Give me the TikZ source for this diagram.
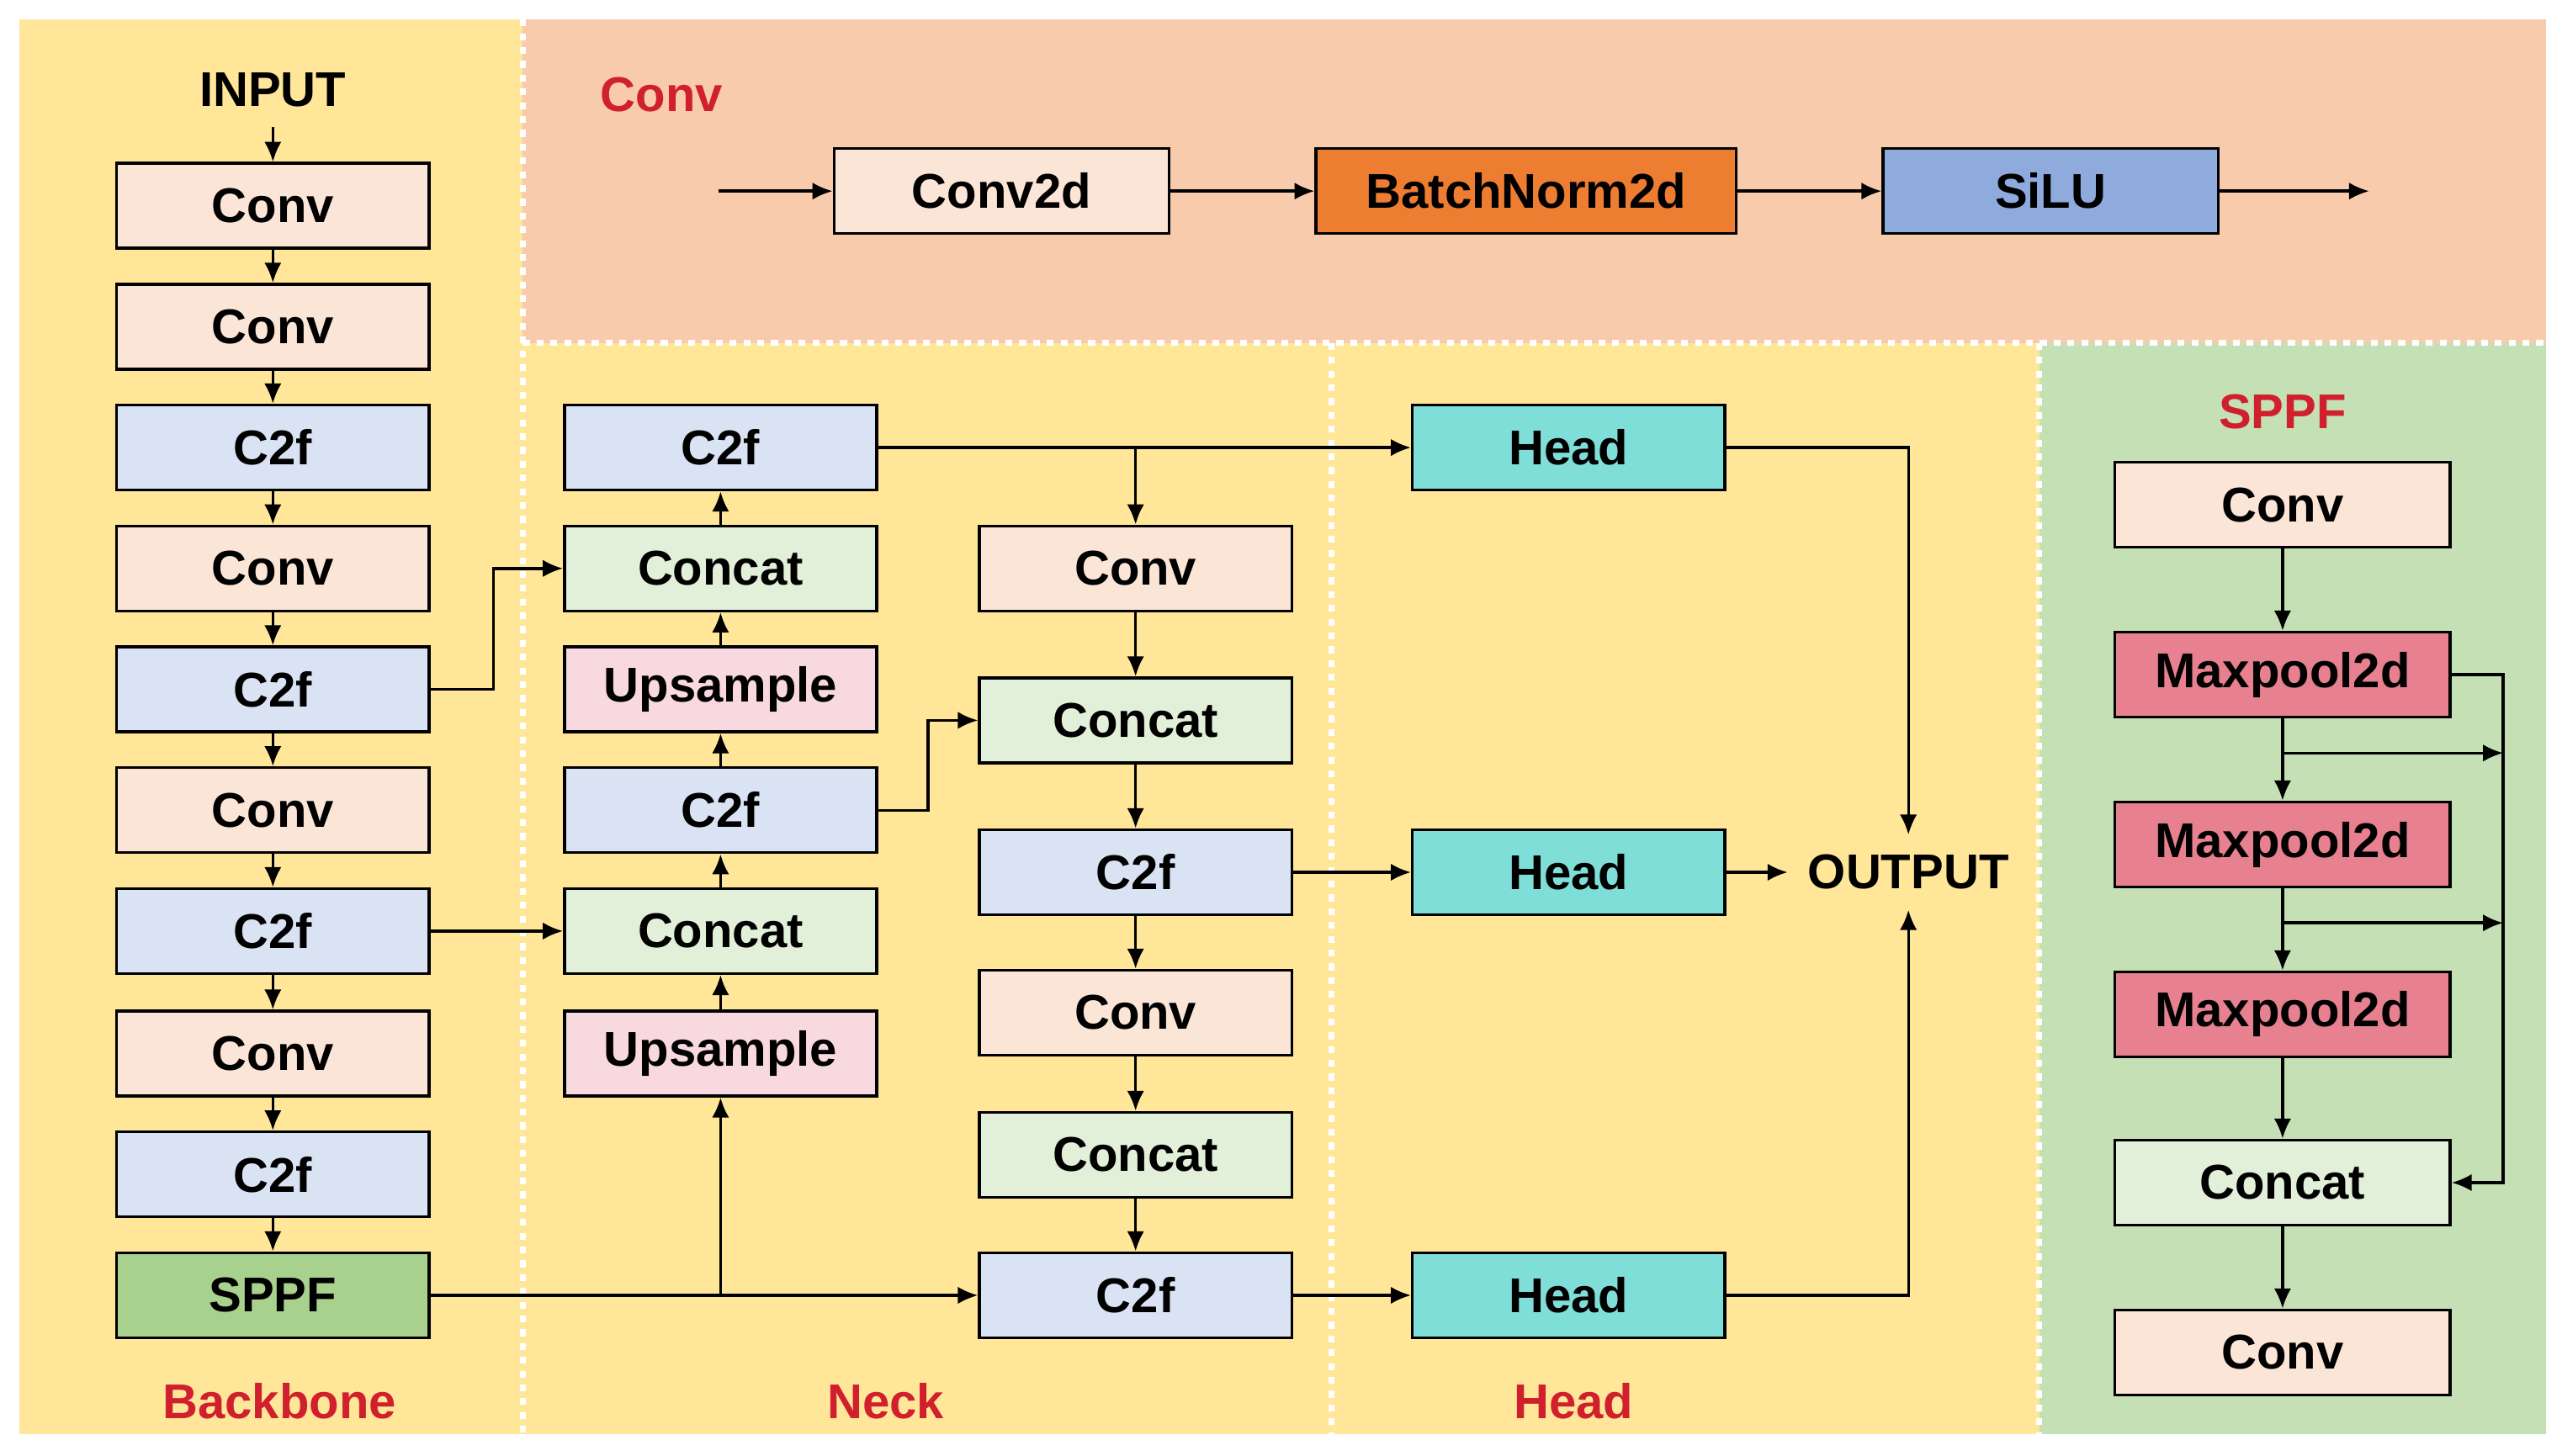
\documentclass[tikz,border=0pt]{standalone}
\usepackage{fontspec}
\setmainfont{Liberation Sans}
\usetikzlibrary{arrows.meta}
\definecolor{bgY}{HTML}{FFE699}
\definecolor{bgP}{HTML}{F8CBAD}
\definecolor{bgG}{HTML}{C5E0B4}
\definecolor{cConv}{HTML}{FBE5D6}
\definecolor{cC2f}{HTML}{DAE3F3}
\definecolor{cSPPF}{HTML}{A9D18E}
\definecolor{cCat}{HTML}{E2F0D9}
\definecolor{cUp}{HTML}{F9D9E0}
\definecolor{cHead}{HTML}{7FDFD8}
\definecolor{cMp}{HTML}{E7808F}
\definecolor{cBN}{HTML}{ED7D31}
\definecolor{cSi}{HTML}{8FAADC}
\definecolor{tRed}{HTML}{D0202E}
\begin{document}
\begin{tikzpicture}[x=0.01cm,y=-0.01cm,
 box/.style={draw=black,line width=0.5pt,minimum width=1.91cm,minimum height=0.52cm,inner sep=0pt,font=\fontsize{8.5}{10}\selectfont\bfseries},
 wbox/.style={box,minimum width=2.05cm},
 ar/.style={-{Latex[length=3.5pt,width=3pt]},line width=0.5pt},
 ln/.style={line width=0.5pt},
 lab/.style={font=\fontsize{8.5}{10}\selectfont\bfseries,text=tRed},
 sep/.style={draw=white,line width=1pt,dash pattern=on 1.2pt off 1.2pt}]
\useasboundingbox (0,0) rectangle (1568,891);
\fill[white] (0,0) rectangle (1568,891);
\fill[bgY] (12,12) rectangle (320,878);
\fill[bgP] (320,12) rectangle (1558,210);
\fill[bgY] (320,210) rectangle (1248,878);
\fill[bgG] (1248,210) rectangle (1558,878);
\draw[sep] (320,12) -- (320,878);
\draw[sep] (320,210) -- (1558,210);
\draw[sep] (815,210) -- (815,878);
\draw[sep] (1248,210) -- (1248,878);
% labels
\node[lab] at (405,58) {Conv};
\node[lab] at (171,858) {Backbone};
\node[lab] at (542,858) {Neck};
\node[lab] at (963,858) {Head};
\node[lab] at (1397,252) {SPPF};
% Conv row
\coordinate (cs) at (440,117); \coordinate (ce) at (1450,117);
\node[wbox,fill=cConv] (cv) at (613,117) {Conv2d};
\node[box,minimum width=2.57cm,fill=cBN] (bn) at (934,117) {BatchNorm2d};
\node[wbox,fill=cSi] (si) at (1255,117) {SiLU};
\draw[ar] (cs) -- (cv); \draw[ar] (cv) -- (bn); \draw[ar] (bn) -- (si); \draw[ar] (si) -- (ce);
% Backbone
\node[font=\fontsize{8.5}{10}\selectfont\bfseries] (in) at (167,55) {INPUT};
\node[box,fill=cConv] (b1) at (167,126) {Conv};
\node[box,fill=cConv] (b2) at (167,200) {Conv};
\node[box,fill=cC2f] (b3) at (167,274) {C2f};
\node[box,fill=cConv] (b4) at (167,348) {Conv};
\node[box,fill=cC2f] (b5) at (167,422) {C2f};
\node[box,fill=cConv] (b6) at (167,496) {Conv};
\node[box,fill=cC2f] (b7) at (167,570) {C2f};
\node[box,fill=cConv] (b8) at (167,645) {Conv};
\node[box,fill=cC2f] (b9) at (167,719) {C2f};
\node[box,fill=cSPPF] (b10) at (167,793) {SPPF};
\draw[ar] (in) -- (b1);
\foreach \a/\b in {b1/b2,b2/b3,b3/b4,b4/b5,b5/b6,b6/b7,b7/b8,b8/b9,b9/b10} \draw[ar] (\a) -- (\b);
% Neck col1
\node[box,fill=cC2f] (n1) at (441,274) {C2f};
\node[box,fill=cCat] (n2) at (441,348) {Concat};
\node[box,fill=cUp] (n3) at (441,422) {Upsample};
\node[box,fill=cC2f] (n4) at (441,496) {C2f};
\node[box,fill=cCat] (n5) at (441,570) {Concat};
\node[box,fill=cUp] (n6) at (441,645) {Upsample};
\foreach \a/\b in {n6/n5,n5/n4,n4/n3,n3/n2,n2/n1} \draw[ar] (\a) -- (\b);
% col2
\node[box,fill=cConv] (m1) at (695,348) {Conv};
\node[box,fill=cCat] (m2) at (695,441) {Concat};
\node[box,fill=cC2f] (m3) at (695,534) {C2f};
\node[box,fill=cConv] (m4) at (695,620) {Conv};
\node[box,fill=cCat] (m5) at (695,707) {Concat};
\node[box,fill=cC2f] (m6) at (695,793) {C2f};
\foreach \a/\b in {m1/m2,m2/m3,m3/m4,m4/m5,m5/m6} \draw[ar] (\a) -- (\b);
% heads
\node[box,fill=cHead] (h1) at (960,274) {Head};
\node[box,fill=cHead] (h2) at (960,534) {Head};
\node[box,fill=cHead] (h3) at (960,793) {Head};
\node[font=\fontsize{8.5}{10}\selectfont\bfseries] (out) at (1168,534) {OUTPUT};
% connections
\draw[ar] (b5.east) -- (302,422) -- (302,348) -- (n2.west);
\draw[ar] (b7) -- (n5);
\draw[ar] (b10) -- (m6);
\draw[ar] (441,793) -- (n6);
\draw[ar] (n4.east) -- (568,496) -- (568,441) -- (m2.west);
\draw[ar] (n1) -- (h1);
\draw[ar] (695,274) -- (m1);
\draw[ar] (m3) -- (h2);
\draw[ar] (m6) -- (h3);
\draw[ar] (h1.east) -| (out.north);
\draw[ar] (h2) -- (out);
\draw[ar] (h3.east) -| (out.south);
% SPPF
\node[wbox,fill=cConv] (s1) at (1397,309) {Conv};
\node[wbox,fill=cMp] (s2) at (1397,413) {Maxpool2d};
\node[wbox,fill=cMp] (s3) at (1397,517) {Maxpool2d};
\node[wbox,fill=cMp] (s4) at (1397,621) {Maxpool2d};
\node[wbox,fill=cCat] (s5) at (1397,724) {Concat};
\node[wbox,fill=cConv] (s6) at (1397,828) {Conv};
\foreach \a/\b in {s1/s2,s2/s3,s3/s4,s4/s5,s5/s6} \draw[ar] (\a) -- (\b);
\coordinate (r1) at (1532,461); \coordinate (r2) at (1532,565);
\draw[ar] (1397,461) -- (r1);
\draw[ar] (1397,565) -- (r2);
\draw[ar] (s2.east) -- (1532,413) |- (s5.east);
\end{tikzpicture}
\end{document}
